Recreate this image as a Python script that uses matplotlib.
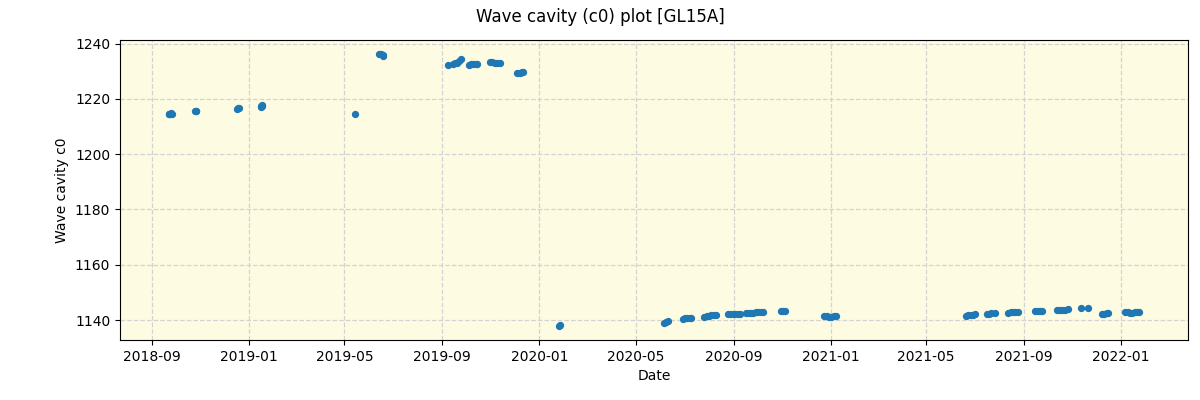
import pandas as pd
import matplotlib
matplotlib.use("Agg")
import matplotlib.pyplot as plt
import matplotlib.dates as mdates

# --- Data (date, c0) ---
dates_2018_19 = [
    "2018-09-22", "2018-09-23", "2018-09-24", "2018-09-25", "2018-09-26",
    "2018-10-25", "2018-10-26", "2018-10-27",
    "2018-12-17", "2018-12-18", "2018-12-19",
    "2019-01-16", "2019-01-16", "2019-01-17", "2019-01-17",
    "2019-05-14",
    "2019-06-14", "2019-06-16", "2019-06-18", "2019-06-19",
    "2019-09-08", "2019-09-14", "2019-09-17", "2019-09-20", "2019-09-22", "2019-09-24",
    "2019-10-04", "2019-10-07", "2019-10-10", "2019-10-13", "2019-10-15",
    "2019-10-31", "2019-11-03", "2019-11-06", "2019-11-09", "2019-11-13",
    "2019-12-04", "2019-12-07", "2019-12-10", "2019-12-12",
]
c0_2018_19 = [
    1214.4, 1214.7, 1214.5, 1214.8, 1214.5,
    1215.5, 1215.7, 1215.6,
    1216.3, 1216.6, 1216.8,
    1217.0, 1217.4, 1217.9, 1217.6,
    1214.6,
    1236.4, 1236.1, 1235.8, 1235.6,
    1232.4, 1232.7, 1232.9, 1233.0, 1233.6, 1234.5,
    1232.3, 1232.5, 1232.6, 1232.7, 1232.8,
    1233.2, 1233.2, 1233.1, 1233.0, 1233.0,
    1229.3, 1229.5, 1229.7, 1229.9,
]

dates_2020_22 = [
    "2020-01-26", "2020-01-27",
    "2020-06-05", "2020-06-08", "2020-06-10",
    "2020-06-29", "2020-07-02", "2020-07-05", "2020-07-08", "2020-07-10",
    "2020-07-26", "2020-07-29", "2020-08-01", "2020-08-04", "2020-08-07", "2020-08-10",
    "2020-08-25", "2020-08-28", "2020-08-31", "2020-09-03", "2020-09-06", "2020-09-09",
    "2020-09-17", "2020-09-20", "2020-09-23", "2020-09-26", "2020-09-29", "2020-10-02",
    "2020-10-05", "2020-10-08",
    "2020-10-30", "2020-11-02", "2020-11-05",
    "2020-12-24", "2020-12-27", "2020-12-30", "2021-01-02", "2021-01-05", "2021-01-08",
    "2021-06-20", "2021-06-23", "2021-06-26", "2021-06-29", "2021-07-01",
    "2021-07-16", "2021-07-19", "2021-07-22", "2021-07-26",
    "2021-08-12", "2021-08-15", "2021-08-18", "2021-08-21", "2021-08-25",
    "2021-09-15", "2021-09-18", "2021-09-21", "2021-09-23",
    "2021-10-13", "2021-10-16", "2021-10-19", "2021-10-22", "2021-10-26",
    "2021-11-12", "2021-11-20",
    "2021-12-08", "2021-12-11", "2021-12-14", "2021-12-16",
    "2022-01-06", "2022-01-09", "2022-01-12", "2022-01-15", "2022-01-18",
    "2022-01-21", "2022-01-24",
]
c0_2020_22 = [
    1137.7, 1138.1,
    1139.0, 1139.3, 1139.6,
    1140.5, 1140.6, 1140.7, 1140.6, 1140.7,
    1141.2, 1141.4, 1141.5, 1141.7, 1141.8, 1141.9,
    1142.1, 1142.2, 1142.2, 1142.3, 1142.3, 1142.3,
    1142.4, 1142.5, 1142.6, 1142.7, 1142.8, 1142.9,
    1143.0, 1143.0,
    1143.1, 1143.2, 1143.1,
    1141.4, 1141.3, 1141.1, 1141.2, 1141.3, 1141.4,
    1141.6, 1141.7, 1141.8, 1141.9, 1142.0,
    1142.2, 1142.3, 1142.4, 1142.5,
    1142.7, 1142.8, 1142.8, 1142.8, 1142.9,
    1143.2, 1143.3, 1143.3, 1143.4,
    1143.5, 1143.6, 1143.7, 1143.8, 1143.9,
    1144.3, 1144.3,
    1142.1, 1142.3, 1142.4, 1142.5,
    1142.9, 1142.8, 1142.6, 1142.7, 1142.8,
    1142.8, 1142.8,
]

dates = pd.to_datetime(dates_2018_19 + dates_2020_22)
c0 = c0_2018_19 + c0_2020_22

# --- Plot ---
fig, ax = plt.subplots(figsize=(12, 4), dpi=100)
fig.subplots_adjust(left=0.1, right=0.99, top=0.9, bottom=0.15)

ax.set_facecolor('#fdfce2')
ax.scatter(dates, c0, s=18, color='#1f77b4', zorder=3)

ax.grid(True, linestyle='--', color='lightgray', linewidth=0.9)
ax.set_axisbelow(True)

ax.xaxis.set_major_locator(mdates.MonthLocator(bymonth=[1, 5, 9]))
ax.xaxis.set_major_formatter(mdates.DateFormatter('%Y-%m'))

ax.set_xlabel('Date')
ax.set_ylabel('Wave cavity c0')
fig.suptitle('Wave cavity (c0) plot [GL15A]')

plt.savefig('out.png', dpi=100)
